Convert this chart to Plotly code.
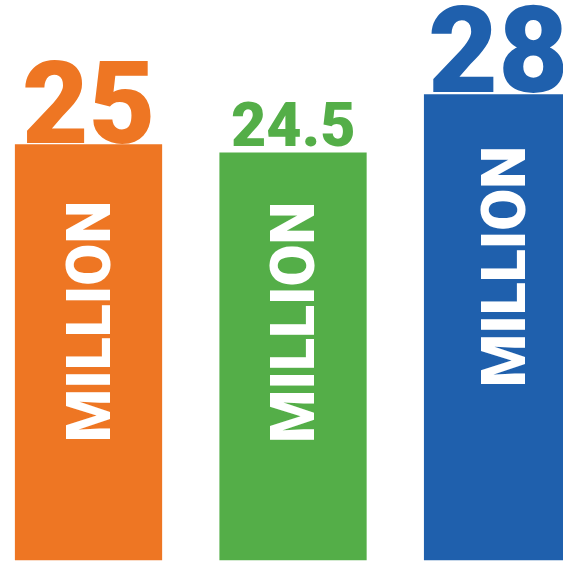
import plotly.graph_objects as go

categories = [0, 1, 2]
values = [25, 24.5, 28]
value_labels = ["25", "24.5", "28"]
unit_label = "MILLION"
colors = ["#EE7623", "#54AE48", "#1F60AD"]
label_sizes = [115, 61, 121]
label_shifts = [-29, -11, -30]
unit_xshift = [0, 0, 6]
unit_yshift = [-55, -48, -50]

fig = go.Figure()
fig.add_trace(go.Bar(
    x=categories, y=values,
    marker=dict(color=colors, line=dict(width=0)),
    width=0.72,
    hoverinfo="skip",
))

for c, v, lab, col, fs, sh, ux, uy in zip(categories, values, value_labels, colors,
                                         label_sizes, label_shifts, unit_xshift, unit_yshift):
    fig.add_annotation(
        x=c, y=v, text=lab, showarrow=False,
        xanchor="center", yanchor="bottom", yshift=sh,
        font=dict(family="Roboto", size=fs, color=col, weight=900),
    )
    fig.add_annotation(
        x=c, y=v, text=unit_label, showarrow=False, textangle=-90,
        xanchor="center", yanchor="top", yshift=uy, xshift=ux,
        font=dict(family="Roboto", size=61, color="white", weight=900),
    )

fig.update_layout(
    width=563, height=561,
    margin=dict(l=0, r=0, t=0, b=0),
    paper_bgcolor="white", plot_bgcolor="white",
    showlegend=False,
    xaxis=dict(range=[-0.4328, 2.32], visible=False, fixedrange=True),
    yaxis=dict(range=[-0.04, 33.66], visible=False, fixedrange=True),
)

fig.write_html(
    "out.html",
    config={"displayModeBar": False, "staticPlot": True},
    post_script="document.body.style.margin='0';document.documentElement.style.overflow='hidden';document.body.style.overflow='hidden';",
)
